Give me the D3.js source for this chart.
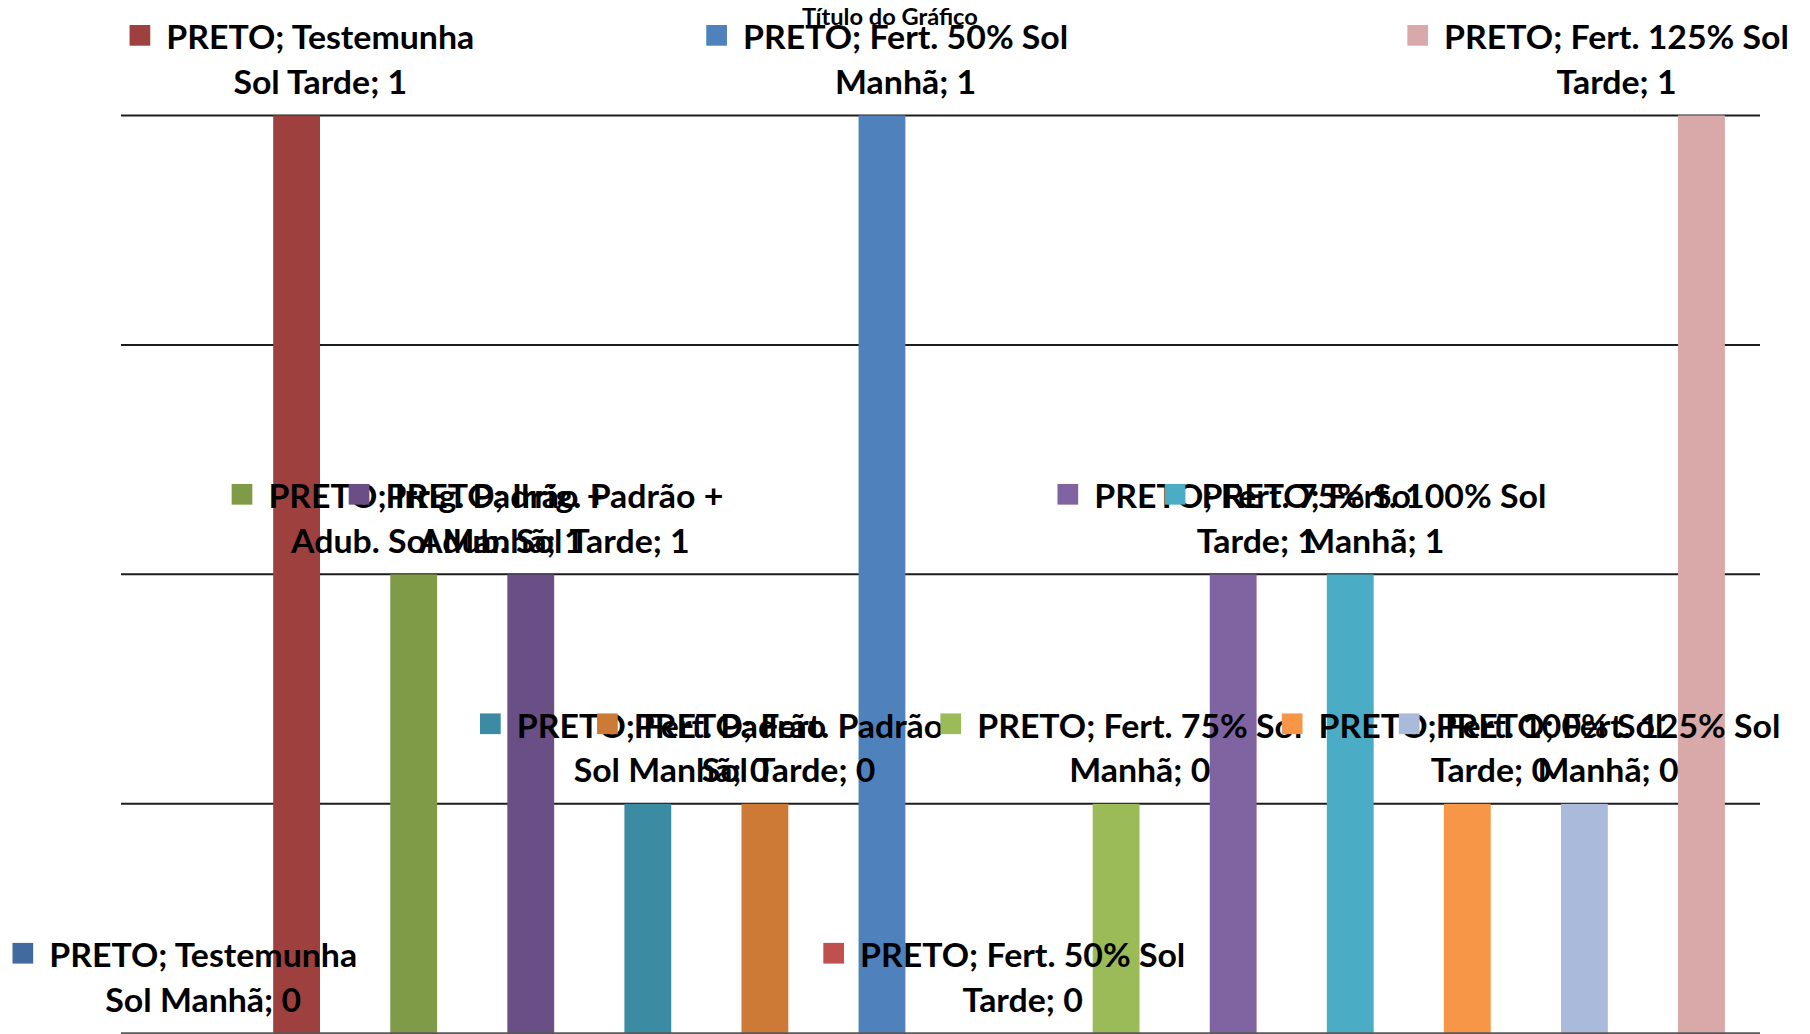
<!DOCTYPE html>
<html>
<head>
<meta charset="utf-8">
<script src="https://cdn.jsdelivr.net/npm/d3@7"></script>
<style>
  html, body { margin: 0; padding: 0; background: #fff; }
  svg { display: block; }
</style>
</head>
<body>
<svg id="chart" width="1810" height="1034"></svg>
<script>
// Single category, one series per treatment
const category = "PRETO";
const seriesNames = [
  "Testemunha Sol Manhã",
  "Testemunha Sol Tarde",
  "Irrig. Padrão + Adub. Sol Manhã",
  "Irrig. Padrão + Adub. Sol Tarde",
  "Fert. Padrão Sol Manhã",
  "Fert. Padrão Sol Tarde",
  "Fert. 50% Sol Manhã",
  "Fert. 50% Sol Tarde",
  "Fert. 75% Sol Manhã",
  "Fert. 75% Sol Tarde",
  "Fert. 100% Sol Manhã",
  "Fert. 100% Sol Tarde",
  "Fert. 125% Sol Manhã",
  "Fert. 125% Sol Tarde"
];
const values = [0, 1, 0.5, 0.5, 0.25, 0.25, 1, 0, 0.25, 0.5, 0.5, 0.25, 0.25, 1];
const seriesColors = [
  "#416A9E", "#9E413E", "#7F9B48", "#694F86", "#3B8CA3", "#CE7A37",
  "#4F81BD", "#C0504D", "#9BBB59", "#8064A2", "#4BACC6", "#F79646",
  "#AABADA", "#D9A9A9"
];
const gridTicks = [0.25, 0.5, 0.75, 1];
const chartTitle = "Título do Gráfico";

const W = 1810, H = 1034;
const plot = { left: 121, right: 1760, top: 115.4, bottom: 1033.3 };

const svg = d3.select("#chart");

const x = d3.scaleBand()
  .domain(seriesNames)
  .range([plot.left, plot.right])
  .paddingInner(0.6)
  .paddingOuter(0.3);

const y = d3.scaleLinear()
  .domain([0, 1])
  .range([plot.bottom, plot.top]);

// Horizontal gridlines
svg.append("g")
  .selectAll("line")
  .data(gridTicks)
  .join("line")
  .attr("x1", plot.left)
  .attr("x2", plot.right)
  .attr("y1", d => y(d))
  .attr("y2", d => y(d))
  .attr("stroke", "#1c1c1c")
  .attr("stroke-width", 2);

// Bars
svg.append("g")
  .selectAll("rect")
  .data(seriesNames)
  .join("rect")
  .attr("x", d => x(d))
  .attr("width", x.bandwidth())
  .attr("y", (d, i) => y(values[i]))
  .attr("height", (d, i) => y(0) - y(values[i]))
  .attr("fill", (d, i) => seriesColors[i]);

// Category axis line
svg.append("line")
  .attr("x1", plot.left)
  .attr("x2", plot.right)
  .attr("y1", y(0))
  .attr("y2", y(0))
  .attr("stroke", "#595959")
  .attr("stroke-width", 2);

// Label typography: a narrow humanist face, emulated by squeezing the fallback
const labelFont = "Lato, 'Open Sans', sans-serif";
const labelSize = 31.5;
const measurer = svg.append("text")
  .attr("font-family", labelFont)
  .attr("font-weight", 700)
  .attr("font-size", labelSize)
  .attr("visibility", "hidden");
function rawWidth(s) { measurer.text(s); return measurer.node().getComputedTextLength(); }
const squeeze = 308 / rawWidth("PRETO; Testemunha");
const textWidth = s => rawWidth(s) * squeeze;

const maxLineWidth = 352;
function wrap(str) {
  const words = str.split(" ");
  const lines = [];
  let cur = "";
  for (const w of words) {
    const trial = cur ? cur + " " + w : w;
    if (cur && textWidth(trial) > maxLineWidth) { lines.push(cur); cur = w; }
    else cur = trial;
  }
  if (cur) lines.push(cur);
  return lines;
}

const fmt = v => String(Math.round(v));
const keySize = 20.7, keyGap = 16, lineStep = 44.7;

const labels = svg.append("g");
seriesNames.forEach((name, i) => {
  const v = values[i];
  const lines = wrap(`${category}; ${name}; ${fmt(v)}`);
  const widest = d3.max(lines, textWidth);
  const blockW = keySize + keyGap + widest;
  const cx = x(name) + x.bandwidth() / 2;
  let left = cx + 5.3 - blockW / 2;
  left = Math.min(left, 1789 - blockW);
  left = Math.max(left, 11.5);
  const lastBase = y(v) - 21.4;
  const firstBase = lastBase - lineStep * (lines.length - 1);
  const textCenter = left + keySize + keyGap + widest / 2;

  const g = labels.append("g");
  g.append("rect")
    .attr("x", left)
    .attr("y", firstBase - 24.3)
    .attr("width", keySize)
    .attr("height", keySize)
    .attr("fill", seriesColors[i]);
  lines.forEach((ln, j) => {
    g.append("text")
      .attr("transform", `translate(${textCenter},${firstBase + j * lineStep}) scale(${squeeze},1)`)
      .attr("text-anchor", "middle")
      .attr("font-family", labelFont)
      .attr("font-weight", 700)
      .attr("font-size", labelSize)
      .attr("fill", "#000")
      .text(ln);
  });
});

// Chart title
svg.append("text")
  .attr("transform", `translate(890,25) scale(${squeeze},1)`)
  .attr("text-anchor", "middle")
  .attr("font-family", labelFont)
  .attr("font-weight", 700)
  .attr("font-size", 22)
  .attr("fill", "#000")
  .text(chartTitle);

measurer.remove();
</script>
</body>
</html>
